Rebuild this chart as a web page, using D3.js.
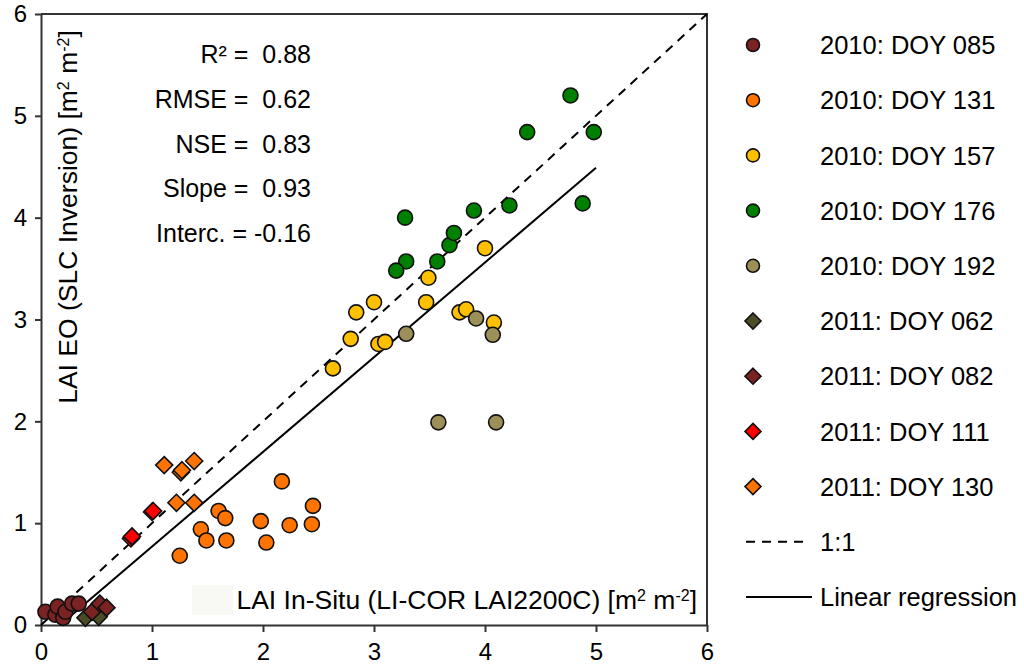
<!DOCTYPE html>
<html>
<head>
<meta charset="utf-8">
<script src="https://cdn.jsdelivr.net/npm/d3@7"></script>
<style>
  body { margin: 0; background: #fff; }
  svg text { font-family: "Liberation Sans", Arial, sans-serif; fill: #000; }
</style>
</head>
<body>
<div id="plot"></div>
<script>
// values: [in-situ LAI, EO LAI]
var doy085_2010 = [[0.04,0.13],[0.13,0.10],[0.15,0.18],[0.20,0.07],[0.22,0.13],[0.28,0.21],[0.34,0.21]];
var doy131_2010 = [[1.25,0.68],[1.44,0.94],[1.49,0.83],[1.60,1.12],[1.66,1.05],[1.67,0.83],
                   [1.98,1.02],[2.03,0.81],[2.17,1.41],[2.24,0.98],[2.45,1.17],[2.44,0.99]];
var doy157_2010 = [[2.63,2.52],[2.79,2.81],[2.84,3.07],[3.00,3.17],[3.04,2.76],[3.10,2.78],
                   [3.49,3.41],[3.47,3.17],[3.77,3.07],[3.83,3.10],[4.08,2.97],[4.00,3.70]];
var doy176_2010 = [[3.28,4.00],[3.29,3.57],[3.20,3.48],[3.57,3.57],[3.68,3.73],[3.72,3.85],
                   [3.90,4.07],[4.22,4.12],[4.77,5.20],[4.38,4.84],[4.98,4.84],[4.88,4.14]];
var doy192_2010 = [[3.29,2.86],[3.92,3.01],[4.07,2.85],[3.58,1.99],[4.10,1.99]];
var doy062_2011 = [[0.40,0.07],[0.52,0.08]];
var doy082_2011 = [[0.46,0.13],[0.53,0.21],[0.59,0.17]];
var doy111_2011 = [[0.81,0.85],[0.82,0.87],[1.00,1.11],[1.01,1.12]];
var doy130_2011 = [[1.11,1.57],[1.26,1.50],[1.27,1.52],[1.38,1.61],[1.22,1.20],[1.38,1.20]];

var seriesNames = ["2010: DOY 085","2010: DOY 131","2010: DOY 157","2010: DOY 176","2010: DOY 192",
                   "2011: DOY 062","2011: DOY 082","2011: DOY 111","2011: DOY 130"];
var seriesColors = ["#7b2323","#ff7300","#ffc000","#008000","#9c9058","#4d4a28","#7b2323","#ff0000","#ff7300"];
var seriesShapes = ["circle","circle","circle","circle","circle","diamond","diamond","diamond","diamond"];
var seriesValues = [doy085_2010, doy131_2010, doy157_2010, doy176_2010, doy192_2010,
                    doy062_2011, doy082_2011, doy111_2011, doy130_2011];

var regSlope = 0.93, regIntercept = -0.16, regEnd = 5.0;
var statLabels = ["R\u00b2 =  0.88", "RMSE =  0.62", "NSE =  0.83", "Slope =  0.93", "Interc. = -0.16"];
var tickValues = [0, 1, 2, 3, 4, 5, 6];

var margin = {top: 14, right: 317, bottom: 46, left: 41},
    width = 1024 - margin.left - margin.right,
    height = 671 - margin.top - margin.bottom;

var svg = d3.select("div#plot")
  .append("svg")
    .attr("width", 1024)
    .attr("height", 671);

var g = svg.append("g")
    .attr("transform", `translate(${margin.left},${margin.top})`);

var x = d3.scaleLinear().domain([0, 6]).range([0, width]);
var y = d3.scaleLinear().domain([0, 6]).range([height, 0]);

// faint box behind the x label, as in the original
g.append("rect")
  .attr("x", 151).attr("y", 571).attr("width", 41).attr("height", 30)
  .attr("fill", "#f8f8f4");

// frame top and right
g.append("path")
  .attr("d", `M0,0H${width}V${height}`)
  .attr("fill", "none").attr("stroke", "#333").attr("stroke-width", 2);

var xAxis = g.append("g")
  .attr("transform", `translate(0,${height})`)
  .call(d3.axisBottom(x).tickValues(tickValues).tickFormat(d3.format("d"))
    .tickSize(7).tickPadding(11).tickSizeOuter(0));
var yAxis = g.append("g")
  .call(d3.axisLeft(y).tickValues(tickValues).tickFormat(d3.format("d"))
    .tickSize(6).tickPadding(8).tickSizeOuter(0));
[xAxis, yAxis].forEach(function(a) {
  a.select(".domain").attr("stroke", "#333").attr("stroke-width", 2);
  a.selectAll(".tick line").attr("stroke", "#333").attr("stroke-width", 2);
  a.selectAll(".tick text").style("font-size", "24px")
    .style("font-family", "'Liberation Sans', Arial, sans-serif").attr("fill", "#000");
});

// 1:1 and regression lines
g.append("line")
  .attr("x1", x(0)).attr("y1", y(0)).attr("x2", x(6)).attr("y2", y(6))
  .attr("stroke", "#000").attr("stroke-width", 2).attr("stroke-dasharray", "9,7");
var regStart = -regIntercept / regSlope;
g.append("line")
  .attr("x1", x(regStart)).attr("y1", y(0))
  .attr("x2", x(regEnd)).attr("y2", y(regSlope * regEnd + regIntercept))
  .attr("stroke", "#000").attr("stroke-width", 2);

function diamond(s) { return `M0,${-s}L${s},0L0,${s}L${-s},0Z`; }

seriesValues.forEach(function(vals, i) {
  var sel = g.append("g").selectAll(".pt").data(vals).enter();
  if (seriesShapes[i] === "circle") {
    sel.append("circle")
      .attr("cx", d => x(d[0])).attr("cy", d => y(d[1])).attr("r", 7.5)
      .attr("fill", seriesColors[i]).attr("stroke", "#111").attr("stroke-width", 1.6);
  } else {
    sel.append("path")
      .attr("d", diamond(8.5))
      .attr("transform", d => `translate(${x(d[0])},${y(d[1])})`)
      .attr("fill", seriesColors[i]).attr("stroke", "#111").attr("stroke-width", 1.6);
  }
});

// statistics
g.append("g").selectAll("text").data(statLabels).enter()
  .append("text")
    .attr("x", 270).attr("y", (d, i) => 49 + i * 44.8)
    .attr("text-anchor", "end")
    .style("font-size", "25px").style("white-space", "pre")
    .text(d => d);

// axis titles
var xt = g.append("text")
  .attr("x", 656).attr("y", 595).attr("text-anchor", "end").style("font-size", "26.5px");
xt.append("tspan").text("LAI In-Situ (LI-COR LAI2200C) [m");
xt.append("tspan").attr("baseline-shift", "super").style("font-size", "16px").text("2");
xt.append("tspan").text(" m");
xt.append("tspan").attr("baseline-shift", "super").style("font-size", "16px").text("-2");
xt.append("tspan").text("]");

var yt = g.append("text")
  .attr("transform", "translate(36,203) rotate(-90)").attr("text-anchor", "middle").style("font-size", "26.5px");
yt.append("tspan").text("LAI EO (SLC Inversion) [m");
yt.append("tspan").attr("baseline-shift", "super").style("font-size", "16px").text("2");
yt.append("tspan").text(" m");
yt.append("tspan").attr("baseline-shift", "super").style("font-size", "16px").text("-2");
yt.append("tspan").text("]");

// legend
var legend = svg.append("g").attr("transform", "translate(753,45)");
var rowH = 55.2;
seriesNames.forEach(function(name, i) {
  var row = legend.append("g").attr("transform", `translate(0,${i * rowH})`);
  if (seriesShapes[i] === "circle") {
    row.append("circle").attr("r", 6.5)
      .attr("fill", seriesColors[i]).attr("stroke", "#111").attr("stroke-width", 1.6);
  } else {
    row.append("path").attr("d", diamond(8))
      .attr("fill", seriesColors[i]).attr("stroke", "#111").attr("stroke-width", 1.6);
  }
  row.append("text").attr("x", 67).attr("dy", "0.36em").style("font-size", "25.5px").text(name);
});
var dashRow = legend.append("g").attr("transform", `translate(0,${9 * rowH})`);
dashRow.append("line").attr("x1", -7).attr("x2", 55)
  .attr("stroke", "#000").attr("stroke-width", 2).attr("stroke-dasharray", "9,7");
dashRow.append("text").attr("x", 67).attr("dy", "0.36em").style("font-size", "25.5px").text("1:1");
var regRow = legend.append("g").attr("transform", `translate(0,${10 * rowH})`);
regRow.append("line").attr("x1", -7).attr("x2", 59).attr("stroke", "#000").attr("stroke-width", 2);
regRow.append("text").attr("x", 67).attr("dy", "0.36em").style("font-size", "25.5px").text("Linear regression");
</script>
</body>
</html>
